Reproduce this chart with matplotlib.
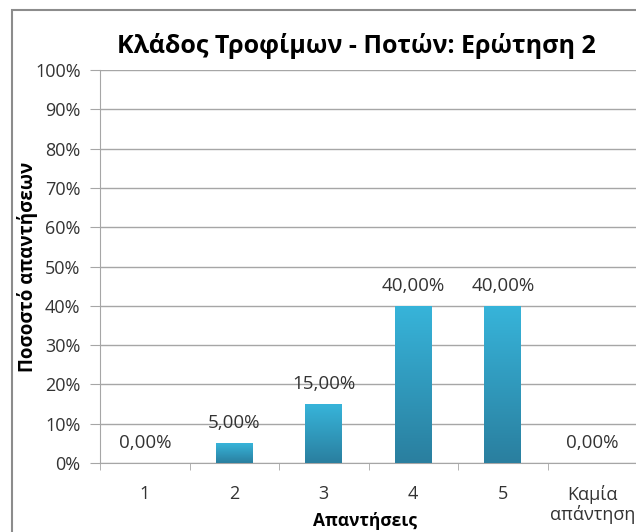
import numpy as np
import matplotlib.pyplot as plt
from matplotlib.patches import Rectangle
from matplotlib.colors import LinearSegmentedColormap

# data
categories = ["1", "2", "3", "4", "5", "Καμία\nαπάντηση"]
values = [0, 5, 15, 40, 40, 0]
labels = ["0,00%", "5,00%", "15,00%", "40,00%", "40,00%", "0,00%"]
yticks = [0, 10, 20, 30, 40, 50, 60, 70, 80, 90, 100]

plt.rcParams['font.family'] = ['Open Sans', 'DejaVu Sans']
txt = "#333333"
gray = "#a6a6a6"

fig = plt.figure(figsize=(6.36, 5.32), dpi=100)
# chart frame (cut at right/bottom)
fig.patches.append(Rectangle((12/636, -0.1), 1.2, 1 - 10/532 + 0.1, transform=fig.transFigure,
                             fill=False, edgecolor="#8c8c8c", linewidth=1.5))

ax = fig.add_axes([100/636, 1 - 463/532, 537/636, (463 - 70)/532])
x = np.arange(len(categories))
bars = ax.bar(x, values, width=0.41, color="#2f9cc0", zorder=3)

cmap = LinearSegmentedColormap.from_list("g", ["#2a7f9f", "#37b4da"])
grad = np.linspace(0, 1, 100).reshape(-1, 1)
for b in bars:
    h = b.get_height()
    if h <= 0:
        continue
    im = ax.imshow(grad, cmap=cmap, aspect="auto", origin="lower",
                   extent=[b.get_x(), b.get_x() + b.get_width(), 0, h], zorder=4)
    im.set_clip_path(b)

for xi, v, lab in zip(x, values, labels):
    ax.text(xi, v + 2.8, lab, ha="center", va="bottom", fontsize=13.5, color=txt, zorder=5)

ax.set_xlim(-0.5, len(categories) - 0.5)
ax.set_ylim(0, 100)
ax.set_yticks(yticks)
ax.set_yticklabels([f"{t}%" for t in yticks], fontsize=13, color=txt)
ax.set_xticks(x)
ax.set_xticklabels(categories, fontsize=13, color=txt, linespacing=1.05)
ax.tick_params(axis="x", length=0, pad=16)
ax.set_xticks(np.arange(-0.5, len(categories), 1.0), minor=True)
ax.tick_params(axis="x", which="minor", length=5, color=gray)
ax.tick_params(axis="y", length=7, color=gray, pad=7)

ax.grid(axis="y", color=gray, linewidth=1.0, zorder=0)
for s in ["top", "right"]:
    ax.spines[s].set_visible(False)
ax.spines["left"].set_color(gray)
ax.spines["bottom"].set_color(gray)

ax.set_ylabel("Ποσοστό απαντήσεων", fontsize=13.5, fontweight="bold", color="black")
ax.yaxis.set_label_coords(-0.115, 0.5)
fig.text(365/636, 1 - 521/532, "Απαντήσεις", ha="center", va="center",
         fontsize=12.5, fontweight="bold", color="black")
fig.text(356/636, 1 - 46/532, "Κλάδος Τροφίμων - Ποτών: Ερώτηση 2", ha="center", va="center",
         fontsize=18, fontweight="bold", color="black")

fig.savefig("out.png", dpi=100)
